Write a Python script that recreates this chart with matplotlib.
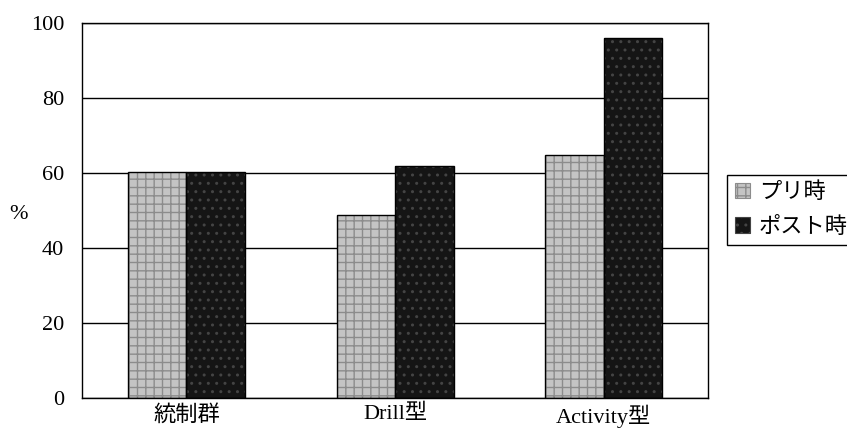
import matplotlib.pyplot as plt
import numpy as np

plt.rcParams["font.family"] = ["Liberation Serif", "Noto Sans CJK JP"]
plt.rcParams["font.size"] = 16
plt.rcParams["hatch.linewidth"] = 1.0

groups = ["統制群", "Drill型", "Activity型"]
series = ["プリ時", "ポスト時"]
pre = [60.3, 48.8, 64.8]
post = [60.3, 61.9, 96.0]

fig = plt.figure(figsize=(8.47, 4.37), dpi=100)
ax = fig.add_axes([0.097, 0.089, 0.739, 0.858])

x = np.arange(len(groups))
w = 0.28

# textured fills first, then black outlines on top
ax.bar(x - w / 2, pre, w, color="#c4c4c4", edgecolor="#8c8c8c", hatch="++",
       linewidth=0, zorder=2)
ax.bar(x + w / 2, post, w, color="#151515", edgecolor="#444444", hatch="..",
       linewidth=0, zorder=2)
ax.bar(x - w / 2, pre, w, fill=False, edgecolor="black", linewidth=1, zorder=3)
ax.bar(x + w / 2, post, w, fill=False, edgecolor="black", linewidth=1, zorder=3)

# legend proxies
h1 = plt.Rectangle((0, 0), 1, 1, facecolor="#c4c4c4", edgecolor="#8c8c8c", hatch="++", linewidth=0.8)
h2 = plt.Rectangle((0, 0), 1, 1, facecolor="#151515", edgecolor="#444444", hatch="..", linewidth=0.8)
leg = fig.legend([h1, h2], series, loc="upper left", bbox_to_anchor=(0.858, 0.60),
                 frameon=True, fancybox=False, edgecolor="black", framealpha=1,
                 handlelength=0.7, handleheight=0.7, handletextpad=0.4,
                 borderpad=0.35, labelspacing=0.6, borderaxespad=0)
leg.get_frame().set_linewidth(1)

ax.set_ylim(0, 100)
ax.set_xlim(-0.5, 2.5)
ax.set_yticks(np.arange(0, 101, 20))
ax.set_xticks(x, labels=groups)
ax.yaxis.grid(True, color="black", linewidth=1)
ax.set_axisbelow(True)
ax.tick_params(axis="x", length=0, pad=5)
ax.tick_params(axis="y", length=0, pad=13)
for s in ax.spines.values():
    s.set_linewidth(1)

fig.text(0.022, 0.51, "%", ha="center", va="center")

fig.savefig("out.png", dpi=100)
